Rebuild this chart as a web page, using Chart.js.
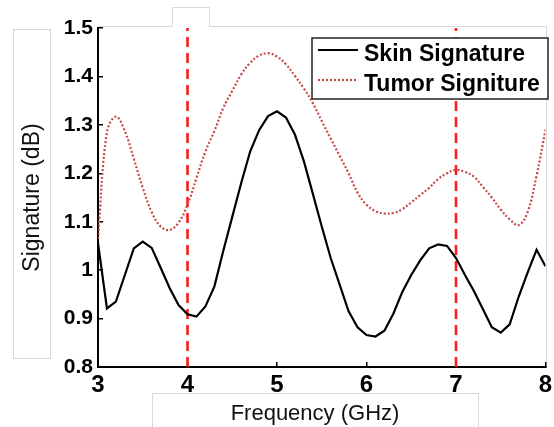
<!DOCTYPE html>
<html>
<head>
<meta charset="utf-8">
<script src="https://cdn.jsdelivr.net/npm/chart.js@4.4.0/dist/chart.umd.min.js"></script>
<style>
  html, body { margin: 0; padding: 0; background: #fff; }
</style>
</head>
<body>
<canvas id="graph" width="554" height="427"></canvas>
<script>
// valores (frecuencia en GHz, firma en dB)
const freq = [3.0, 3.1, 3.2, 3.3, 3.4, 3.5, 3.6, 3.7, 3.8, 3.9,
              4.0, 4.1, 4.2, 4.3, 4.4, 4.5, 4.6, 4.7, 4.8, 4.9,
              5.0, 5.1, 5.2, 5.3, 5.4, 5.5, 5.6, 5.7, 5.8, 5.9,
              6.0, 6.1, 6.2, 6.3, 6.4, 6.5, 6.6, 6.7, 6.8, 6.9,
              7.0, 7.1, 7.2, 7.3, 7.4, 7.5, 7.6, 7.7, 7.8, 7.9, 8.0];
const skinSignature = [1.056, 0.921, 0.935, 0.990, 1.045, 1.059, 1.046, 1.005, 0.963, 0.928,
                       0.909, 0.904, 0.925, 0.966, 1.040, 1.110, 1.180, 1.245, 1.289, 1.318,
                       1.328, 1.315, 1.280, 1.225, 1.158, 1.090, 1.025, 0.970, 0.915, 0.882,
                       0.866, 0.863, 0.875, 0.910, 0.955, 0.990, 1.020, 1.045, 1.053, 1.050,
                       1.025, 0.990, 0.957, 0.920, 0.882, 0.871, 0.888, 0.945, 0.995, 1.042, 1.008];
const tumorSignature = [1.065, 1.285, 1.317, 1.287, 1.230, 1.170, 1.120, 1.090, 1.083, 1.098,
                        1.135, 1.190, 1.245, 1.287, 1.335, 1.370, 1.404, 1.428, 1.443, 1.448,
                        1.441, 1.425, 1.401, 1.375, 1.345, 1.308, 1.272, 1.236, 1.200, 1.160,
                        1.135, 1.122, 1.117, 1.118, 1.126, 1.140, 1.155, 1.170, 1.188, 1.200,
                        1.207, 1.203, 1.193, 1.172, 1.150, 1.125, 1.105, 1.093, 1.120, 1.195, 1.290];
const markerFreqs = [4, 7];
const xTickLabels = ['3', '4', '5', '6', '7', '8'];
const yTickLabels = ['0.8', '0.9', '1', '1.1', '1.2', '1.3', '1.4', '1.5'];
const seriesNames = ['Skin Signature', 'Tumor Signiture'];
const yMin = 0.8;
const yMax = 1.5;

const FONT = "'Liberation Sans', Arial, sans-serif";

function toPoints(values) {
  return values.map((v, i) => ({ x: freq[i], y: v }));
}

function findLabel(labels, value) {
  const l = labels.find((t) => Math.abs(Number(t) - value) < 1e-6);
  return l === undefined ? '' : l;
}

// cajas blancas con borde gris claro que aparecen en la figura original
const framePlugin = {
  id: 'frame',
  beforeDraw(chart) {
    const ctx = chart.ctx;
    ctx.save();
    ctx.fillStyle = '#fff';
    ctx.fillRect(0, 0, chart.width, chart.height);
    ctx.strokeStyle = '#d9d9d9';
    ctx.lineWidth = 1;
    ctx.strokeRect(13.5, 29.5, 37, 329);
    ctx.strokeRect(152.5, 393.5, 326, 40);
    ctx.beginPath();
    ctx.moveTo(98, 26.5);
    ctx.lineTo(172.5, 26.5);
    ctx.lineTo(172.5, 7.5);
    ctx.lineTo(209.5, 7.5);
    ctx.lineTo(209.5, 26.5);
    ctx.lineTo(546.5, 26.5);
    ctx.lineTo(546.5, 367);
    ctx.stroke();
    // titulo del eje x
    ctx.fillStyle = '#111';
    ctx.font = '22px ' + FONT;
    ctx.textAlign = 'center';
    ctx.textBaseline = 'alphabetic';
    ctx.fillText('Frequency (GHz)', 315, 420);
    ctx.restore();
  }
};

// leyenda con marco negro, dentro del area del grafico
const legendPlugin = {
  id: 'boxLegend',
  afterDraw(chart) {
    const ctx = chart.ctx;
    ctx.save();
    ctx.fillStyle = '#fff';
    ctx.fillRect(312, 38, 236, 61);
    ctx.strokeStyle = '#222';
    ctx.lineWidth = 1.5;
    ctx.strokeRect(312, 38, 236, 61);
    const rows = [50, 80];
    chart.data.datasets.slice(0, 2).forEach((ds, i) => {
      ctx.beginPath();
      ctx.strokeStyle = ds.borderColor;
      ctx.lineWidth = ds.borderWidth;
      ctx.setLineDash(ds.borderDash || []);
      ctx.moveTo(318, rows[i]);
      ctx.lineTo(358, rows[i]);
      ctx.stroke();
      ctx.setLineDash([]);
      ctx.fillStyle = '#000';
      ctx.font = 'bold 23px ' + FONT;
      ctx.textAlign = 'left';
      ctx.textBaseline = 'alphabetic';
      ctx.fillText(ds.label, 364, rows[i] + 11);
    });
    ctx.restore();
  }
};

const datasets = [
  {
    label: seriesNames[0],
    data: toPoints(skinSignature),
    borderColor: '#000000',
    borderWidth: 2.2,
    pointRadius: 0,
    tension: 0
  },
  {
    label: seriesNames[1],
    data: toPoints(tumorSignature),
    borderColor: '#c44a4a',
    borderWidth: 2.2,
    borderDash: [2, 2],
    pointRadius: 0,
    tension: 0.4
  }
];

markerFreqs.forEach((f) => {
  datasets.push({
    label: 'marker ' + f,
    data: [{ x: f, y: yMin }, { x: f, y: yMax }],
    borderColor: '#ff1a1a',
    borderWidth: 2.6,
    borderDash: [10, 6],
    pointRadius: 0
  });
});

const config = {
  type: 'line',
  data: { datasets: datasets },
  options: {
    responsive: false,
    animation: false,
    events: [],
    layout: { padding: { left: 0, right: 8.5, top: 28, bottom: 0 } },
    plugins: {
      legend: { display: false },
      tooltip: { enabled: false }
    },
    scales: {
      x: {
        type: 'linear',
        min: 3,
        max: 8,
        afterFit: (scale) => {
          scale.height = 60;
          scale.paddingLeft = 0;
          scale.paddingRight = 0;
        },
        ticks: {
          stepSize: 1,
          color: '#000',
          padding: 9,
          font: { family: FONT, size: 24, weight: 'bold' },
          callback: (v) => findLabel(xTickLabels, v)
        },
        grid: { drawOnChartArea: false, tickLength: -5, color: '#000', lineWidth: 1.5 },
        border: { color: '#000', width: 2 }
      },
      y: {
        min: yMin,
        max: yMax,
        afterFit: (scale) => {
          scale.width = 98;
          scale.paddingTop = 0;
          scale.paddingBottom = 0;
        },
        ticks: {
          stepSize: 0.1,
          color: '#000',
          padding: 10,
          font: { family: FONT, size: 21, weight: 'bold' },
          callback: (v) => findLabel(yTickLabels, v)
        },
        grid: { drawOnChartArea: false, tickLength: -5, color: '#000', lineWidth: 1.5 },
        border: { color: '#000', width: 2 },
        title: {
          display: true,
          text: 'Signature (dB)',
          color: '#111',
          font: { family: FONT, size: 23 },
          padding: { top: 19, bottom: 0 }
        }
      }
    }
  },
  plugins: [framePlugin, legendPlugin]
};

const graphCanvas = document.getElementById('graph');
window.myChart = new Chart(graphCanvas, config);
</script>
</body>
</html>
